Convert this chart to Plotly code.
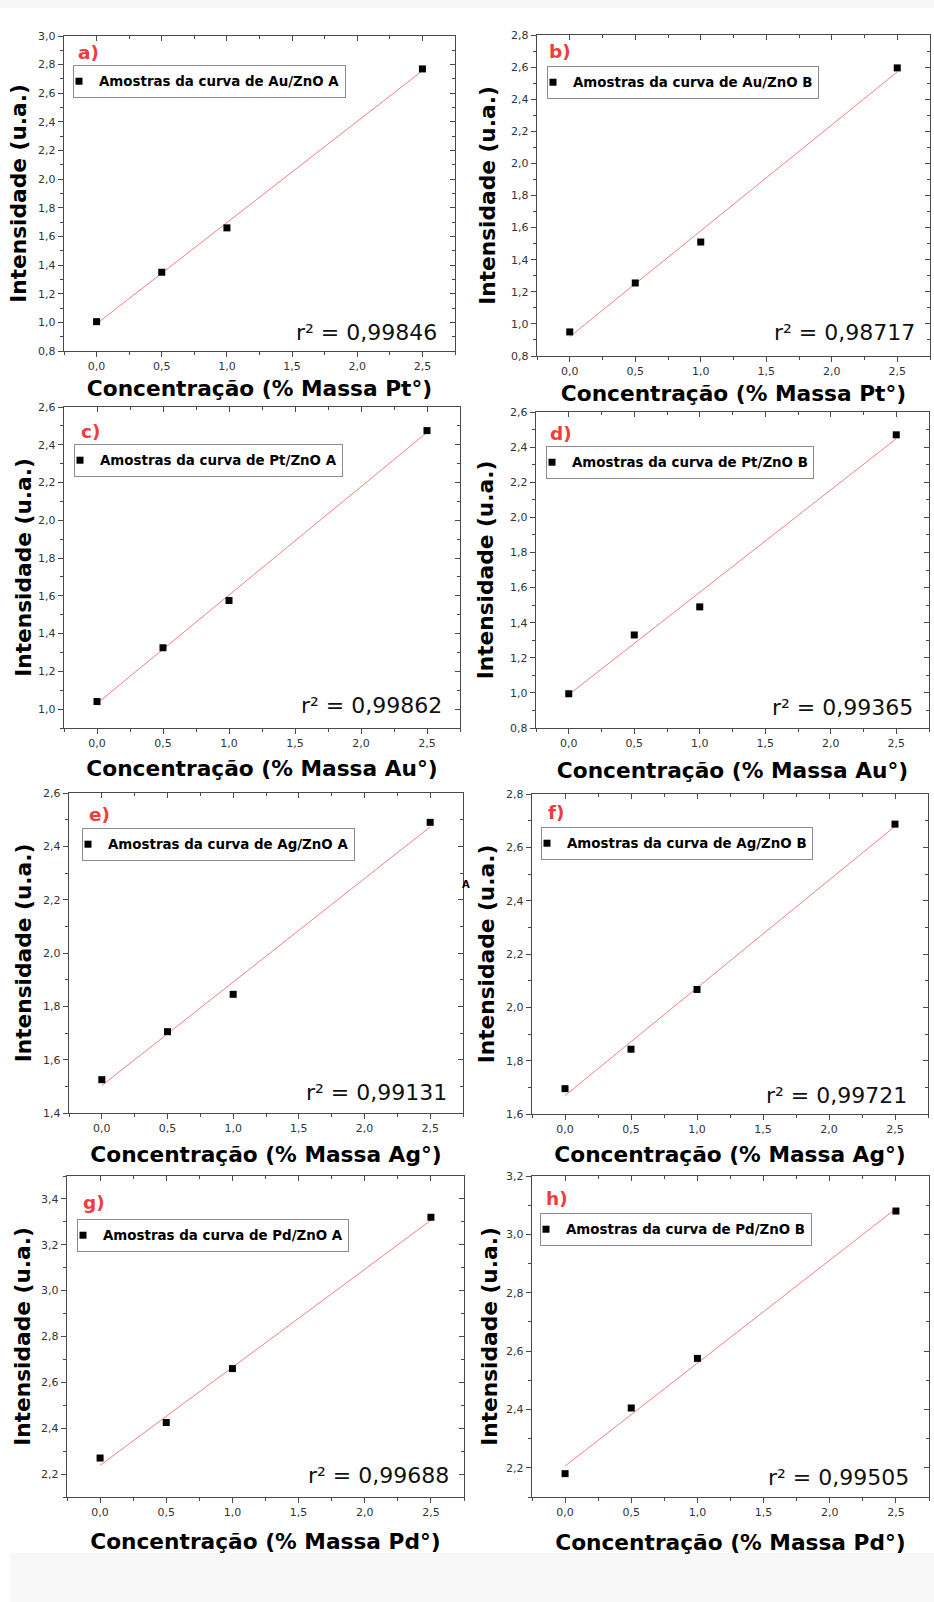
import plotly.graph_objects as go

W, H = 934, 1602

# ---------------- data ----------------
conc = [0.0, 0.5, 1.0, 2.5]
fit_x = [0.0, 2.5]

int_au_a = [1.005, 1.35, 1.66, 2.77]
int_au_b = [0.95, 1.255, 1.51, 2.595]
int_pt_a = [1.04, 1.325, 1.575, 2.475]
int_pt_b = [0.995, 1.33, 1.49, 2.47]
int_ag_a = [1.525, 1.705, 1.845, 2.49]
int_ag_b = [1.695, 1.843, 2.067, 2.687]
int_pd_a = [2.27, 2.425, 2.66, 3.32]
int_pd_b = [2.18, 2.405, 2.575, 3.08]

fit_au_a = [0.99, 2.757]
fit_au_b = [0.92, 2.57]
fit_pt_a = [1.03, 2.465]
fit_pt_b = [0.99, 2.448]
fit_ag_a = [1.503, 2.473]
fit_ag_b = [1.669, 2.679]
fit_pd_a = [2.238, 3.307]
fit_pd_b = [2.206, 3.088]

panel_tags = ["a)", "b)", "c)", "d)", "e)", "f)", "g)", "h)"]
legend_names = [
    "Amostras da curva de Au/ZnO A", "Amostras da curva de Au/ZnO B",
    "Amostras da curva de Pt/ZnO A", "Amostras da curva de Pt/ZnO B",
    "Amostras da curva de Ag/ZnO A", "Amostras da curva de Ag/ZnO B",
    "Amostras da curva de Pd/ZnO A", "Amostras da curva de Pd/ZnO B",
]
x_titles = [
    "Concentração (% Massa Pt°)", "Concentração (% Massa Pt°)",
    "Concentração (% Massa Au°)", "Concentração (% Massa Au°)",
    "Concentração (% Massa Ag°)", "Concentração (% Massa Ag°)",
    "Concentração (% Massa Pd°)", "Concentração (% Massa Pd°)",
]
y_title = "Intensidade (u.a.)"
r2_texts = ["r² = 0,99846", "r² = 0,98717", "r² = 0,99862", "r² = 0,99365",
            "r² = 0,99131", "r² = 0,99721", "r² = 0,99688", "r² = 0,99505"]
y_ranges = [[0.8, 3.0], [0.8, 2.8], [0.9, 2.6], [0.8, 2.6],
            [1.4, 2.6], [1.6, 2.8], [2.1, 3.5], [2.1, 3.2]]
y_tick0 = [0.8, 0.8, 1.0, 0.8, 1.4, 1.6, 2.2, 2.2]
x_range = [-0.25, 2.75]

series = [int_au_a, int_au_b, int_pt_a, int_pt_b, int_ag_a, int_ag_b, int_pd_a, int_pd_b]
fits = [fit_au_a, fit_au_b, fit_pt_a, fit_pt_b, fit_ag_a, fit_ag_b, fit_pd_a, fit_pd_b]

# ---------------- layout geometry (pixels) ----------------
boxes = [(64, 36, 455, 351), (537, 35, 930, 356),
         (64, 407, 460, 728), (536, 412, 929, 728),
         (69, 793, 463, 1113), (532, 794, 928, 1114),
         (67, 1176, 464, 1497), (532, 1176, 929, 1497)]
legend_pos = [(73, 65), (547, 66), (74, 444), (546, 446),
              (82, 828), (541, 827), (77, 1219), (540, 1213)]
tag_pos = [(76, 53), (547, 52), (79, 431), (548, 433),
           (87, 814), (546, 812), (81, 1202), (544, 1198)]
r2_pos = [(439, 332), (917, 333), (444, 705), (915, 707),
          (449, 1092), (909, 1095), (451, 1475), (911, 1477)]
xt_standoff = [8, 8, 11, 13, 12, 11, 15, 16]
yt_standoff = [5, 9, 0, 10, 5, 5, 4, 2]

FONT = "DejaVu Sans"
AX_COL = "#4a4a4a"
TICK_FONT = dict(family=FONT, size=11, color="#333333")
TITLE_FONT = dict(family=FONT, size=21.7, color="#000000", weight="bold")


def px_x(v):
    return v / W


def px_y(v):
    return 1 - v / H


fig = go.Figure()
layout = dict(
    width=W, height=H,
    margin=dict(l=0, r=0, t=0, b=0),
    paper_bgcolor="white", plot_bgcolor="white",
    separators=",.",
    showlegend=True,
    annotations=[], shapes=[],
)

for i in range(8):
    k = i + 1
    kt = k + 8
    xa = "x" if k == 1 else f"x{k}"
    ya = "y" if k == 1 else f"y{k}"
    xat = f"x{kt}"
    yat = f"y{kt}"
    lg = "legend" if k == 1 else f"legend{k}"
    L, T, R, B = boxes[i]

    fig.add_trace(go.Scatter(
        x=fit_x, y=fits[i], mode="lines", xaxis=xa, yaxis=ya,
        line=dict(color="#f08080", width=1), showlegend=False, hoverinfo="skip"))
    fig.add_trace(go.Scatter(
        x=conc, y=series[i], mode="markers", xaxis=xa, yaxis=ya,
        name=legend_names[i], legend=lg,
        marker=dict(symbol="square", size=7, color="black")))
    # helper traces for top / right tick axes
    fig.add_trace(go.Scatter(x=[None], y=[None], xaxis=xat, yaxis=ya,
                             showlegend=False, hoverinfo="skip"))
    fig.add_trace(go.Scatter(x=[None], y=[None], xaxis=xa, yaxis=yat,
                             showlegend=False, hoverinfo="skip"))

    xdom = [px_x(L), px_x(R)]
    ydom = [px_y(B), px_y(T)]
    common = dict(showgrid=False, zeroline=False)

    layout["xaxis" if k == 1 else f"xaxis{k}"] = dict(
        domain=xdom, anchor=ya, range=x_range, tick0=0, dtick=0.5,
        tickformat=".1f", ticks="outside", ticklen=5, tickwidth=1.2, tickcolor=AX_COL,
        minor=dict(ticks="outside", ticklen=3, dtick=0.25, tick0=0, tickcolor=AX_COL, tickwidth=1),
        showline=True, linecolor=AX_COL, linewidth=1.4, mirror=True,
        tickfont=TICK_FONT,
        title=dict(text=x_titles[i], font=TITLE_FONT, standoff=xt_standoff[i]),
        automargin=False, **common)
    layout["yaxis" if k == 1 else f"yaxis{k}"] = dict(
        domain=ydom, anchor=xa, range=y_ranges[i], tick0=y_tick0[i], dtick=0.2,
        tickformat=".1f", ticks="outside", ticklen=5, tickwidth=1.2, tickcolor=AX_COL,
        minor=dict(ticks="outside", ticklen=3, dtick=0.1, tickcolor=AX_COL, tickwidth=1),
        showline=True, linecolor=AX_COL, linewidth=1.4, mirror=True,
        tickfont=TICK_FONT,
        title=dict(text=y_title, font=TITLE_FONT, standoff=yt_standoff[i]),
        automargin=False, **common)
    layout[f"xaxis{kt}"] = dict(
        overlaying=xa, side="top", anchor=ya, range=x_range, tick0=0, dtick=0.5,
        ticks="inside", ticklen=5, tickwidth=1.2, tickcolor=AX_COL,
        minor=dict(ticks="inside", ticklen=3, dtick=0.25, tick0=0, tickcolor=AX_COL, tickwidth=1),
        showticklabels=False, showline=False, automargin=False, **common)
    layout[f"yaxis{kt}"] = dict(
        overlaying=ya, side="right", anchor=xa, range=y_ranges[i], tick0=y_tick0[i], dtick=0.2,
        ticks="inside", ticklen=5, tickwidth=1.2, tickcolor=AX_COL,
        minor=dict(ticks="inside", ticklen=3, dtick=0.1, tickcolor=AX_COL, tickwidth=1),
        showticklabels=False, showline=False, automargin=False, **common)

    lx, ly = legend_pos[i]
    layout[lg] = dict(
        x=px_x(lx), y=px_y(ly), xanchor="left", yanchor="top",
        xref="paper", yref="paper",
        bgcolor="white", bordercolor="#8c8c8c", borderwidth=1,
        font=dict(family=FONT, size=13.4, color="black", weight="bold"),
        itemsizing="trace", indentation=-15)

    tx, ty = tag_pos[i]
    layout["annotations"].append(dict(
        x=px_x(tx), y=px_y(ty), xref="paper", yref="paper", xanchor="left", yanchor="middle",
        text=panel_tags[i], showarrow=False,
        font=dict(family=FONT, size=18.5, color="#f03c3c", weight="bold")))
    rx, ry = r2_pos[i]
    layout["annotations"].append(dict(
        x=px_x(rx), y=px_y(ry), xref="paper", yref="paper", xanchor="right", yanchor="middle",
        text=r2_texts[i], showarrow=False,
        font=dict(family=FONT, size=22, color="#111111")))

# stray "A" glyph seen between panels e and f
layout["annotations"].append(dict(
    x=px_x(466), y=px_y(884), xref="paper", yref="paper", xanchor="center", yanchor="middle",
    text="A", showarrow=False, font=dict(family=FONT, size=10, color="black", weight="bold")))

# faint grey page edges
layout["shapes"].append(dict(type="rect", xref="paper", yref="paper", x0=0, x1=1,
                             y0=px_y(8), y1=1, fillcolor="#f6f6f6", line=dict(width=0), layer="below"))
layout["shapes"].append(dict(type="rect", xref="paper", yref="paper", x0=px_x(10), x1=1,
                             y0=0, y1=px_y(1553), fillcolor="#f8f8f8", line=dict(width=0), layer="below"))

fig.update_layout(**layout)
fig.write_html("out.html")
